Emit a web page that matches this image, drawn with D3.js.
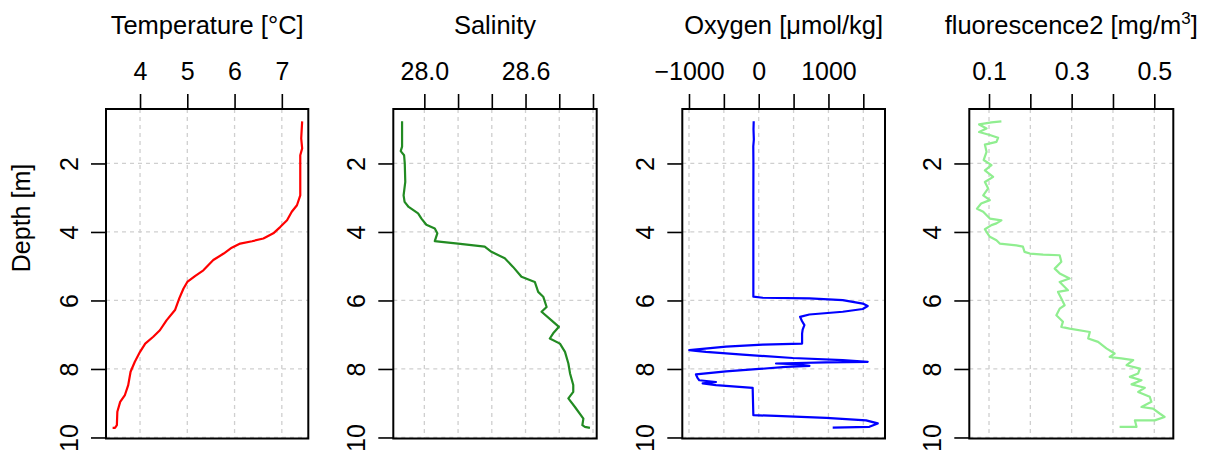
<!DOCTYPE html>
<html>
  <head>
    <meta charset="utf-8">
    <title>CTD profile</title>
    <script src="https://d3js.org/d3.v7.min.js"></script>
    <style>
      body { margin: 0; background: #fff; }
      text { font-family: "Liberation Sans", Arial, sans-serif; fill: #000; }
      .tick line { stroke: #000; stroke-width: 1.6; }
      .grid line { stroke: #cfcfcf; stroke-width: 1.3; stroke-dasharray: 4 4; }
    </style>
  </head>
  <body>
    <svg id="chart" width="1212" height="452"></svg>
    <script>
      // values, depth in m
      const tempDepth = [0.77, 1.27, 1.56, 1.76, 2.93, 3.22, 3.41, 3.66, 3.85, 4.04, 4.19, 4.27, 4.34, 4.46, 4.63, 4.82, 5.12, 5.28, 5.46, 5.65, 5.94, 6.28, 6.58, 6.87, 7.06, 7.26, 7.50, 7.79, 8.08, 8.47, 8.76, 8.96, 9.25, 9.64, 9.72, 9.72];
      const temperature = [7.43, 7.41, 7.43, 7.39, 7.39, 7.32, 7.21, 7.11, 6.97, 6.82, 6.61, 6.37, 6.12, 5.94, 5.77, 5.55, 5.34, 5.17, 5.00, 4.92, 4.83, 4.74, 4.56, 4.42, 4.28, 4.11, 4.00, 3.89, 3.80, 3.75, 3.68, 3.58, 3.52, 3.51, 3.47, 3.42];

      const salDepth = [0.77, 1.51, 1.64, 1.76, 2.00, 2.54, 2.93, 3.12, 3.27, 3.46, 3.61, 3.79, 3.90, 4.04, 4.27, 4.29, 4.34, 4.43, 4.58, 4.77, 5.02, 5.31, 5.46, 5.75, 5.89, 6.19, 6.33, 6.58, 6.77, 6.96, 7.11, 7.26, 7.50, 7.84, 8.13, 8.47, 8.67, 8.86, 9.11, 9.45, 9.64, 9.69, 9.72];
      const salinity = [27.868, 27.868, 27.860, 27.880, 27.884, 27.887, 27.877, 27.883, 27.907, 27.963, 27.983, 28.012, 28.062, 28.077, 28.062, 28.101, 28.200, 28.358, 28.398, 28.477, 28.526, 28.576, 28.655, 28.675, 28.705, 28.725, 28.695, 28.754, 28.798, 28.764, 28.744, 28.804, 28.834, 28.854, 28.864, 28.883, 28.883, 28.854, 28.893, 28.943, 28.937, 28.952, 28.982];

      const oxyDepth = [0.77, 1.00, 1.30, 1.50, 2.00, 3.00, 5.89, 5.92, 5.94, 5.99, 6.09, 6.16, 6.25, 6.33, 6.41, 6.48, 6.60, 6.72, 6.85, 6.97, 7.26, 7.29, 7.35, 7.45, 7.47, 7.50, 7.58, 7.68, 7.74, 7.79, 7.81, 7.84, 7.87, 7.91, 7.94, 8.00, 8.07, 8.16, 8.25, 8.33, 8.38, 8.42, 8.47, 8.55, 9.35, 9.37, 9.43, 9.50, 9.59, 9.69, 9.71];
      const oxygen = [-72, -75, -70, -78, -76, -77, -77, 57, 726, 1205, 1492, 1563, 1492, 1205, 726, 593, 620, 655, 630, 622, 622, 57, -469, -996, -900, -756, -230, 487, 1205, 1563, 966, 248, 583, 727, 391, 9, -469, -900, -880, -852, -613, -804, -613, -87, -77, 248, 966, 1540, 1707, 1587, 1061];

      const fluoDepth = [0.77, 0.80, 0.86, 0.98, 1.08, 1.17, 1.25, 1.37, 1.45, 1.66, 1.90, 2.05, 2.20, 2.39, 2.54, 2.73, 2.93, 3.07, 3.17, 3.32, 3.41, 3.61, 3.66, 3.75, 3.80, 3.92, 4.00, 4.14, 4.24, 4.34, 4.39, 4.43, 4.58, 4.63, 4.66, 4.68, 4.87, 5.07, 5.21, 5.36, 5.46, 5.70, 5.75, 5.94, 6.14, 6.24, 6.43, 6.62, 6.77, 6.82, 6.92, 7.11, 7.21, 7.40, 7.55, 7.65, 7.69, 7.74, 7.89, 7.99, 8.13, 8.23, 8.33, 8.45, 8.55, 8.67, 8.81, 8.96, 9.11, 9.16, 9.30, 9.40, 9.50, 9.50, 9.69, 9.69];
      const fluorescence = [0.130, 0.106, 0.076, 0.094, 0.076, 0.102, 0.122, 0.118, 0.090, 0.094, 0.087, 0.106, 0.090, 0.110, 0.090, 0.098, 0.086, 0.102, 0.081, 0.071, 0.086, 0.102, 0.130, 0.118, 0.106, 0.090, 0.094, 0.102, 0.118, 0.126, 0.166, 0.182, 0.186, 0.199, 0.231, 0.271, 0.275, 0.259, 0.271, 0.295, 0.271, 0.291, 0.267, 0.275, 0.283, 0.271, 0.263, 0.279, 0.275, 0.295, 0.344, 0.340, 0.364, 0.384, 0.404, 0.392, 0.420, 0.449, 0.433, 0.465, 0.461, 0.441, 0.469, 0.445, 0.477, 0.461, 0.489, 0.493, 0.469, 0.497, 0.513, 0.525, 0.501, 0.453, 0.457, 0.416];

      // axis ticks
      const depthTicks = [2, 4, 6, 8, 10];
      const tempTicks = [4, 5, 6, 7];
      const tempLabels = ["4", "5", "6", "7"];
      const salTicks = [28.0, 28.2, 28.4, 28.6, 28.8, 29.0];
      const salLabels = ["28.0", "", "", "28.6", "", ""];
      const oxyTicks = [-1000, -500, 0, 500, 1000, 1500];
      const oxyLabels = ["\u22121000", "", "0", "", "1000", ""];
      const fluoTicks = [0.1, 0.2, 0.3, 0.4, 0.5];
      const fluoLabels = ["0.1", "", "0.3", "", "0.5"];

      const svg = d3.select("#chart");
      const plotTop = 109, plotBottom = 438.5;
      const y = d3.scaleLinear().domain([0.41, 10.03]).range([plotTop, plotBottom]);
      const fs = 25;

      const panels = [
        { left: 106, right: 308.3, domain: [3.28, 7.56], depth: tempDepth, values: temperature,
          ticks: tempTicks, labels: tempLabels, colour: "#ff0000", title: ["Temperature [\u00b0C]"] },
        { left: 393.3, right: 596.7, domain: [27.816, 29.022], depth: salDepth, values: salinity,
          ticks: salTicks, labels: salLabels, colour: "#228b22", title: ["Salinity"] },
        { left: 682.3, right: 885, domain: [-1096, 1811], depth: oxyDepth, values: oxygen,
          ticks: oxyTicks, labels: oxyLabels, colour: "#0000ff", title: ["Oxygen [\u03bcmol/kg]"] },
        { left: 969.3, right: 1173.3, domain: [0.0523, 0.546], depth: fluoDepth, values: fluorescence,
          ticks: fluoTicks, labels: fluoLabels, colour: "#90ee90", title: ["fluorescence2 [mg/m", "3", "]"] }
      ];

      panels.forEach(function(p) {
        const x = d3.scaleLinear().domain(p.domain).range([p.left, p.right]);
        const g = svg.append("g");

        // grid
        const grid = g.append("g").classed("grid", true);
        grid.selectAll(".gx").data(p.ticks).enter().append("line")
          .attr("x1", d => x(d)).attr("x2", d => x(d))
          .attr("y1", plotTop).attr("y2", plotBottom);
        grid.selectAll(".gy").data(depthTicks).enter().append("line")
          .attr("x1", p.left).attr("x2", p.right)
          .attr("y1", d => y(d)).attr("y2", d => y(d));

        // profile
        const line = d3.line()
          .x((d, i) => x(p.values[i]))
          .y(d => y(d));
        g.append("path")
          .datum(p.depth)
          .attr("d", line)
          .attr("fill", "none")
          .attr("stroke", p.colour)
          .attr("stroke-width", 2.2)
          .attr("stroke-linejoin", "round");

        // top axis
        const xAxis = d3.axisTop(x)
          .tickValues(p.ticks)
          .tickFormat((d, i) => p.labels[i])
          .tickSize(15)
          .tickPadding(14);
        g.append("g")
          .attr("transform", "translate(0," + plotTop + ")")
          .call(xAxis)
          .call(a => a.select(".domain").remove())
          .selectAll("text")
            .style("font-size", fs + "px")
            .attr("fill", "#000");

        // left axis, labels rotated
        const yAxis = d3.axisLeft(y)
          .tickValues(depthTicks)
          .tickFormat(d3.format("d"))
          .tickSize(15)
          .tickPadding(13);
        const ya = g.append("g")
          .attr("transform", "translate(" + p.left + ",0)")
          .call(yAxis)
          .call(a => a.select(".domain").remove());
        ya.selectAll("text")
          .style("font-size", fs + "px")
          .attr("fill", "#000")
          .attr("x", null).attr("dy", null)
          .attr("text-anchor", "middle")
          .attr("transform", "translate(-28,0) rotate(-90)");

        // box
        g.append("rect")
          .attr("x", p.left).attr("y", plotTop)
          .attr("width", p.right - p.left).attr("height", plotBottom - plotTop)
          .attr("fill", "none")
          .attr("stroke", "#000")
          .attr("stroke-width", 2);

        // title
        const t = g.append("text")
          .attr("x", (p.left + p.right) / 2)
          .attr("y", 34)
          .attr("text-anchor", "middle")
          .style("font-size", "25.5px");
        t.append("tspan").text(p.title[0]);
        if (p.title.length > 1) {
          t.append("tspan").text(p.title[1])
            .attr("dy", -10).style("font-size", "17px");
          t.append("tspan").text(p.title[2]).attr("dy", 10);
        }
      });

      svg.append("text")
        .attr("transform", "translate(30,218) rotate(-90)")
        .attr("text-anchor", "middle")
        .style("font-size", fs + "px")
        .text("Depth [m]");
    </script>
  </body>
</html>
